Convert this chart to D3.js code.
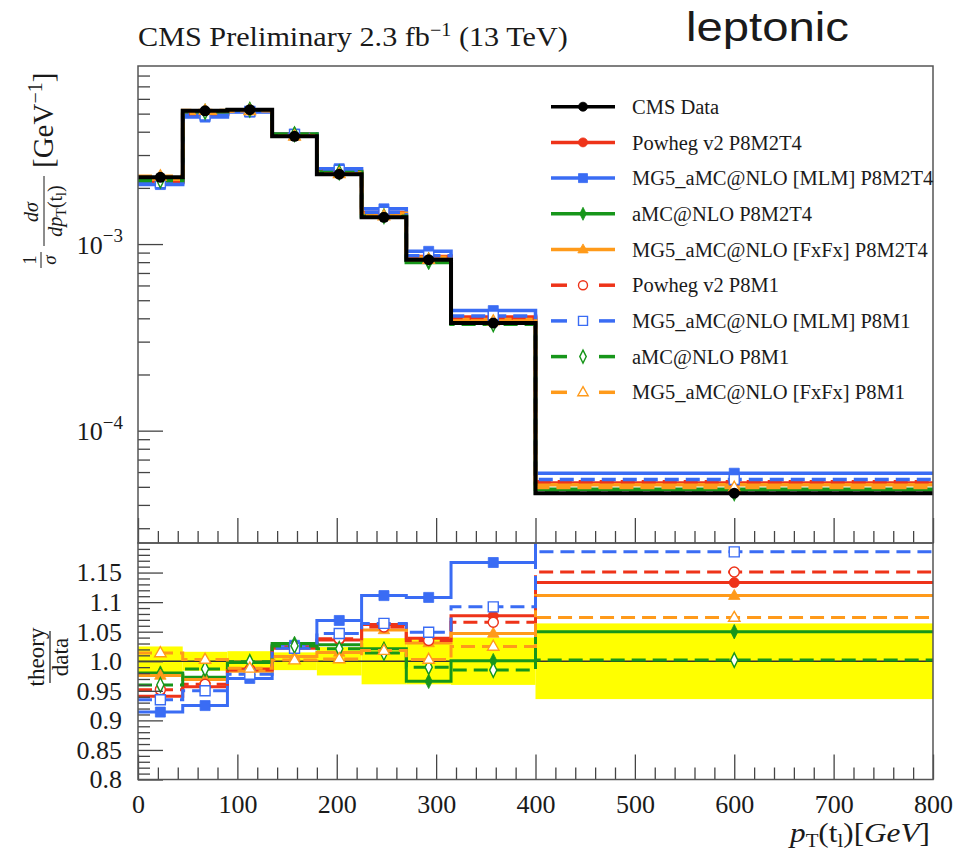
<!DOCTYPE html>
<html>
<head>
<meta charset="utf-8">
<script src="https://cdn.jsdelivr.net/npm/d3@7"></script>
<style>
  body { margin: 0; background: #fff; }
  svg text { font-family: "Liberation Serif", "DejaVu Serif", serif; fill: #1a1a1a; }
</style>
</head>
<body>
<svg id="chart" width="972" height="853"></svg>
<script>
// ---- binning and measured distribution ----
const binEdges = [0, 45, 90, 135, 180, 225, 270, 315, 400, 800];
const dataValues = [2.28e-3, 5.18e-3, 5.25e-3, 3.78e-3, 2.37e-3, 1.39e-3, 8.25e-4, 3.77e-4, 4.62e-5];
// relative uncertainty of the data (yellow band in the ratio panel)
const dataUncertainty = [0.025, 0.016, 0.017, 0.015, 0.024, 0.039, 0.039, 0.040, 0.064];

// ---- theory / data ratios per bin ----
const ratioPowhegM2T4 = [0.941, 0.957, 0.987, 1.022, 1.036, 1.062, 1.039, 1.077, 1.133];
const ratioMlmM2T4    = [0.914, 0.925, 0.971, 1.027, 1.069, 1.111, 1.108, 1.167, 1.280];
const ratioAmcM2T4    = [0.980, 0.973, 0.998, 1.030, 1.028, 1.021, 0.966, 1.001, 1.050];
const ratioFxfxM2T4   = [0.976, 0.969, 0.983, 1.008, 1.015, 1.053, 1.031, 1.047, 1.111];
const ratioPowhegM1   = [0.952, 0.961, 0.985, 1.024, 1.038, 1.058, 1.035, 1.066, 1.151];
const ratioMlmM1      = [0.935, 0.950, 0.978, 1.022, 1.047, 1.064, 1.049, 1.092, 1.185];
const ratioAmcM1      = [0.960, 0.987, 0.999, 1.026, 1.021, 1.014, 0.990, 0.985, 1.002];
const ratioFxfxM1     = [1.014, 1.003, 0.988, 1.002, 1.004, 1.018, 1.003, 1.025, 1.074];

const legendLabels = [
  "CMS Data",
  "Powheg v2 P8M2T4",
  "MG5_aMC@NLO [MLM] P8M2T4",
  "aMC@NLO P8M2T4",
  "MG5_aMC@NLO [FxFx] P8M2T4",
  "Powheg v2 P8M1",
  "MG5_aMC@NLO [MLM] P8M1",
  "aMC@NLO P8M1",
  "MG5_aMC@NLO [FxFx] P8M1"
];

// ---- tick labels ----
const xTickValues = [0, 100, 200, 300, 400, 500, 600, 700, 800];
const xTickLabels = ["0", "100", "200", "300", "400", "500", "600", "700", "800"];
const ratioTickValues = [0.8, 0.85, 0.9, 0.95, 1.0, 1.05, 1.1, 1.15];
const ratioTickLabels = ["0.8", "0.85", "0.9", "0.95", "1.0", "1.05", "1.1", "1.15"];
const logTickValues = [1e-4, 1e-3];

// ---- styles ----
const RED = "#ee3319", BLUE = "#3a6cf4", GREEN = "#17961a", ORANGE = "#ff9a1a";
const series = [
  { ratio: ratioPowhegM2T4, label: legendLabels[1], color: RED,    dashed: false, shape: "circle" },
  { ratio: ratioMlmM2T4,    label: legendLabels[2], color: BLUE,   dashed: false, shape: "square" },
  { ratio: ratioAmcM2T4,    label: legendLabels[3], color: GREEN,  dashed: false, shape: "diamond" },
  { ratio: ratioFxfxM2T4,   label: legendLabels[4], color: ORANGE, dashed: false, shape: "triangle" },
  { ratio: ratioPowhegM1,   label: legendLabels[5], color: RED,    dashed: true,  shape: "circle" },
  { ratio: ratioMlmM1,      label: legendLabels[6], color: BLUE,   dashed: true,  shape: "square" },
  { ratio: ratioAmcM1,      label: legendLabels[7], color: GREEN,  dashed: true,  shape: "diamond" },
  { ratio: ratioFxfxM1,     label: legendLabels[8], color: ORANGE, dashed: true,  shape: "triangle" }
];
// absolute prediction = ratio x data
series.forEach(s => { s.values = s.ratio.map((r, i) => r * dataValues[i]); });
const drawOrder = [...series.filter(s => !s.dashed), ...series.filter(s => s.dashed)];

// ---- layout ----
const L = 138, R = 933, T = 66, M = 543, B = 779.5;
const svg = d3.select("#chart");
const x = d3.scaleLinear().domain([0, 800]).range([L, R]);
const yTop = d3.scaleLog().domain([2.5e-5, 9e-3]).range([M, T]);
const yRat = d3.scaleLinear().domain([0.8, 1.2]).range([B, M]);
const binCenters = binEdges.slice(0, -1).map((e, i) => (e + binEdges[i + 1]) / 2);

const defs = svg.append("defs");
defs.append("clipPath").attr("id", "clipTop").append("rect")
  .attr("x", L).attr("y", T).attr("width", R - L).attr("height", M - T);
defs.append("clipPath").attr("id", "clipRat").append("rect")
  .attr("x", L).attr("y", M).attr("width", R - L).attr("height", B - M);

function stepPoints(vals) {
  const pts = [];
  vals.forEach((v, i) => { pts.push([binEdges[i], v]); pts.push([binEdges[i + 1], v]); });
  return pts;
}

function markerPath(shape, s) {
  if (shape === "circle") return d3.symbol(d3.symbolCircle, Math.PI * s * s * 0.25)();
  if (shape === "square") return `M${-s/2},${-s/2}H${s/2}V${s/2}H${-s/2}Z`;
  if (shape === "diamond") { const w = s * 0.72, h = s * 1.45; return `M0,${-h/2}L${w/2},0L0,${h/2}L${-w/2},0Z`; }
  if (shape === "triangle") { const w = s * 1.15, h = s; return `M0,${-h*0.62}L${w/2},${h*0.38}L${-w/2},${h*0.38}Z`; }
}

function drawMarker(g, shape, cx, cy, color, open, size) {
  g.append("path")
    .attr("d", markerPath(shape, size))
    .attr("transform", `translate(${cx},${cy})`)
    .attr("fill", open ? "#fff" : color)
    .attr("stroke", color)
    .attr("stroke-width", open ? 1.4 : 0.8);
}

// stretch a text element horizontally (about its anchor x) to a given width
function fitWidth(sel, width) {
  const n = sel.node().getComputedTextLength();
  const x0 = +sel.attr("x");
  sel.attr("transform", `translate(${x0},0) scale(${width / n},1) translate(${-x0},0)`);
}

const DASH = "14,7";

// ================= top panel =================
const gTop = svg.append("g").attr("clip-path", "url(#clipTop)");
const lineTop = d3.line().x(d => x(d[0])).y(d => yTop(d[1]));

drawOrder.forEach(s => {
  gTop.append("path").attr("d", lineTop(stepPoints(s.values)))
    .attr("fill", "none").attr("stroke", s.color).attr("stroke-width", 3.5)
    .attr("stroke-dasharray", s.dashed ? DASH : null);
});
drawOrder.forEach(s => {
  s.values.forEach((v, i) => drawMarker(gTop, s.shape, x(binCenters[i]), yTop(v), s.color, s.dashed, 10));
});
gTop.append("path").attr("d", lineTop(stepPoints(dataValues)))
  .attr("fill", "none").attr("stroke", "#000").attr("stroke-width", 4);
dataValues.forEach((v, i) => {
  gTop.append("circle").attr("cx", x(binCenters[i])).attr("cy", yTop(v)).attr("r", 5.5).attr("fill", "#000");
});

// ================= ratio panel =================
const gRat = svg.append("g").attr("clip-path", "url(#clipRat)");
dataUncertainty.forEach((u, i) => {
  gRat.append("rect")
    .attr("x", x(binEdges[i])).attr("width", x(binEdges[i + 1]) - x(binEdges[i]))
    .attr("y", yRat(1 + u)).attr("height", yRat(1 - u) - yRat(1 + u))
    .attr("fill", "#ffff00");
});
const lineRat = d3.line().x(d => x(d[0])).y(d => yRat(d[1]));
gRat.append("path").attr("d", lineRat(stepPoints(dataValues.map(() => 1))))
  .attr("fill", "none").attr("stroke", "#333").attr("stroke-width", 1.4);
drawOrder.forEach(s => {
  gRat.append("path").attr("d", lineRat(stepPoints(s.ratio)))
    .attr("fill", "none").attr("stroke", s.color).attr("stroke-width", 3)
    .attr("stroke-dasharray", s.dashed ? DASH : null);
});
drawOrder.forEach(s => {
  s.ratio.forEach((r, i) => drawMarker(gRat, s.shape, x(binCenters[i]), yRat(r), s.color, s.dashed, 10));
});

// ================= axes =================
const tickColor = "#444";
const TICK_FONT = "26px";
function styleAxis(g) {
  g.select(".domain").remove();
  g.selectAll(".tick line").attr("stroke", tickColor).attr("stroke-width", 1.3);
  g.selectAll("text").style("font-size", TICK_FONT).attr("fill", "#1a1a1a");
}

// top panel: log y axis
const minorLog = [];
[1e-5, 1e-4, 1e-3].forEach(dec => { for (let k = 2; k <= 9; k++) { const v = dec * k; if (v >= 2.5e-5 && v <= 9e-3) minorLog.push(v); } });
svg.append("g").attr("transform", `translate(${L},0)`)
  .call(d3.axisLeft(yTop).tickValues(minorLog).tickSize(-12).tickFormat(""))
  .call(styleAxis);
const majorLog = svg.append("g").attr("transform", `translate(${L},0)`)
  .call(d3.axisLeft(yTop).tickValues(logTickValues).tickSize(-25).tickPadding(15))
  .call(styleAxis);
majorLog.selectAll(".tick text").each(function (d) {
  const t = d3.select(this).text(null).attr("dy", "0.35em");
  t.append("tspan").text("10");
  t.append("tspan").attr("dy", "-0.6em").style("font-size", "19px").text("\u2212" + Math.round(-Math.log10(d)));
});

// x ticks on the top panel (pointing up)
const minorX = d3.range(0, 801, 20).filter(v => v % 100 !== 0);
svg.append("g").attr("transform", `translate(0,${M})`)
  .call(d3.axisBottom(x).tickValues(minorX).tickSize(-12).tickFormat(""))
  .call(styleAxis);
svg.append("g").attr("transform", `translate(0,${M})`)
  .call(d3.axisBottom(x).tickValues(xTickValues).tickSize(-25).tickFormat(""))
  .call(styleAxis);

// ratio panel y axis
const minorRat = d3.range(80, 121).map(v => v / 100).filter(v => Math.round(v * 100) % 5 !== 0);
svg.append("g").attr("transform", `translate(${L},0)`)
  .call(d3.axisLeft(yRat).tickValues(minorRat).tickSize(-12).tickFormat(""))
  .call(styleAxis);
svg.append("g").attr("transform", `translate(${L},0)`)
  .call(d3.axisLeft(yRat).tickValues(ratioTickValues).tickSize(-25).tickPadding(16)
    .tickFormat((d, i) => ratioTickLabels[i]))
  .call(styleAxis);

// ratio panel x axis
svg.append("g").attr("transform", `translate(0,${B})`)
  .call(d3.axisBottom(x).tickValues(minorX).tickSize(-12).tickFormat(""))
  .call(styleAxis);
svg.append("g").attr("transform", `translate(0,${B})`)
  .call(d3.axisBottom(x).tickValues(xTickValues).tickSize(-25).tickPadding(15)
    .tickFormat((d, i) => xTickLabels[i]))
  .call(styleAxis);

// frames
[[T, M], [M, B]].forEach(([a, b]) => {
  svg.append("rect").attr("x", L).attr("y", a).attr("width", R - L).attr("height", b - a)
    .attr("fill", "none").attr("stroke", "#555").attr("stroke-width", 1.5);
});

// ================= legend =================
const legX0 = 551, legX1 = 615, legText = 632, legY0 = 106.7, legDy = 35.7;
const gLeg = svg.append("g");
const legendEntries = [{ label: legendLabels[0], color: "#000", dashed: false, shape: "circle" }, ...series];
legendEntries.forEach((s, i) => {
  const yy = legY0 + i * legDy;
  const mx = (legX0 + legX1) / 2;
  if (s.dashed) {
    gLeg.append("line").attr("x1", legX0).attr("x2", legX0 + 16).attr("y1", yy).attr("y2", yy)
      .attr("stroke", s.color).attr("stroke-width", 3.5);
    gLeg.append("line").attr("x1", legX1 - 16).attr("x2", legX1).attr("y1", yy).attr("y2", yy)
      .attr("stroke", s.color).attr("stroke-width", 3.5);
  } else {
    gLeg.append("line").attr("x1", legX0).attr("x2", legX1).attr("y1", yy).attr("y2", yy)
      .attr("stroke", s.color).attr("stroke-width", 3.5);
  }
  drawMarker(gLeg, s.shape, mx, yy, s.color, s.dashed, 9);
  gLeg.append("text").attr("x", legText).attr("y", yy).attr("dy", "0.35em")
    .style("font-size", "20.5px").text(s.label);
});

// ================= titles and axis labels =================
const title = svg.append("text").attr("x", 138).attr("y", 46).style("font-size", "27px");
title.append("tspan").text("CMS Preliminary 2.3 fb");
title.append("tspan").attr("dy", -10).style("font-size", "18px").text("\u22121");
title.append("tspan").attr("dy", 10).text(" (13 TeV)");
fitWidth(title, 430);

const lep = svg.append("text").attr("x", 686).attr("y", 41)
  .style("font-family", "'Liberation Sans', Arial, sans-serif").style("font-size", "40px").attr("fill", "#000")
  .text("leptonic");
fitWidth(lep, 163);

// y label, top panel (rotated)
const yl = svg.append("g").attr("transform", "rotate(-90)");
yl.append("text").attr("x", -260).attr("y", 36).attr("text-anchor", "middle").style("font-size", "19px").text("1");
yl.append("line").attr("x1", -268).attr("x2", -252).attr("y1", 41).attr("y2", 41).attr("stroke", "#1a1a1a").attr("stroke-width", 1);
yl.append("text").attr("x", -260).attr("y", 56).attr("text-anchor", "middle").style("font-size", "19px").style("font-style", "italic").text("σ");
yl.append("text").attr("x", -212).attr("y", 38).attr("text-anchor", "middle").style("font-size", "20px").style("font-style", "italic").text("dσ");
yl.append("line").attr("x1", -246).attr("x2", -176).attr("y1", 44).attr("y2", 44).attr("stroke", "#1a1a1a").attr("stroke-width", 1);
const den = yl.append("text").attr("x", -211).attr("y", 62).attr("text-anchor", "middle").style("font-size", "20px");
den.append("tspan").style("font-style", "italic").text("dp");
den.append("tspan").attr("dy", 4).style("font-size", "14px").text("T");
den.append("tspan").attr("dy", -4).text("(t");
den.append("tspan").attr("dy", 4).style("font-size", "14px").text("l");
den.append("tspan").attr("dy", -4).text(")");
const gev = yl.append("text").attr("x", -168).attr("y", 53).style("font-size", "29px");
gev.append("tspan").text("[GeV");
gev.append("tspan").attr("dy", -11).style("font-size", "20px").text("\u22121");
gev.append("tspan").attr("dy", 11).text("]");

// y label, ratio panel
const yr = svg.append("g").attr("transform", "rotate(-90)");
yr.append("text").attr("x", -657).attr("y", 44).attr("text-anchor", "middle").style("font-size", "23px").text("theory");
yr.append("line").attr("x1", -683).attr("x2", -631).attr("y1", 50).attr("y2", 50).attr("stroke", "#1a1a1a").attr("stroke-width", 1.2);
yr.append("text").attr("x", -657).attr("y", 68).attr("text-anchor", "middle").style("font-size", "23px").text("data");

// x label
const xl = svg.append("text").attr("x", 930).attr("y", 842).attr("text-anchor", "end").style("font-size", "27px");
xl.append("tspan").style("font-style", "italic").text("p");
xl.append("tspan").attr("dy", 5).style("font-size", "18px").text("T");
xl.append("tspan").attr("dy", -5).text("(t");
xl.append("tspan").attr("dy", 5).style("font-size", "18px").text("l");
xl.append("tspan").attr("dy", -5).text(")[");
xl.append("tspan").style("font-style", "italic").text("GeV");
xl.append("tspan").text("]");
fitWidth(xl, 140);
</script>
</body>
</html>
